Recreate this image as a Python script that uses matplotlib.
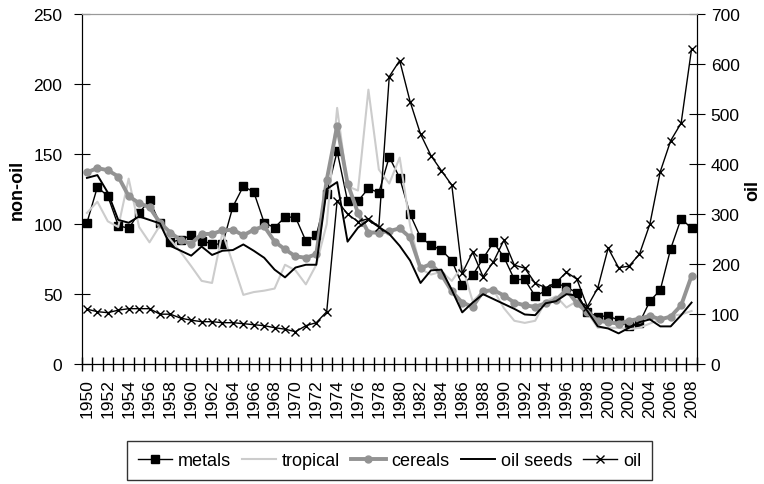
import matplotlib
matplotlib.use("Agg")
import matplotlib.pyplot as plt
import numpy as np

plt.rcParams['font.family'] = ['Liberation Sans', 'DejaVu Sans']

years = list(range(1950, 2009))

metals = [101, 126.5, 120, 99, 97, 108, 117, 100.5, 87, 89,
          92, 88, 86, 85.5, 112.5, 127, 123, 101, 97.5, 105,
          105, 88, 92, 121.5, 152, 116.5, 116.5, 125.5, 122.5, 148,
          133, 107, 90.5, 85, 81.5, 74, 56.5, 63.5, 75.5, 87,
          76.5, 60.5, 60.5, 48.5, 52.5, 58, 55, 51, 37, 34,
          34.5, 31.5, 27, 29.5, 45, 53, 82.5, 104, 97]
tropical = [108, 116, 102, 98, 132.5, 98, 87, 99, 89, 80,
            70, 59.5, 58, 94, 72, 49.5, 51.5, 52.5, 54, 71,
            67, 57, 71, 100, 183, 127, 124, 196, 139, 129,
            147.5, 99, 68, 64, 66, 59.5, 70, 45, 52, 53,
            40, 31, 29.5, 31, 45, 48.5, 40.5, 45, 37, 26,
            26, 26, 25, 26, 29, 32, 34.5, 35.5, 38]
cereals = [137, 140, 138.5, 134, 120, 115, 112, 101, 94, 88.5,
           86, 93, 93, 95.5, 96, 92, 96, 98.5, 87.5, 82,
           77, 76, 78.5, 131.5, 170, 129, 108, 94, 94, 95,
           97, 90.5, 68.5, 71.5, 64, 52, 44, 41, 52, 53,
           49, 44, 42, 41, 43.5, 46, 53, 43.5, 37, 31,
           30, 29, 31, 32.5, 34.5, 32, 34, 42, 63]
oil_seeds = [133, 135, 122.5, 103, 101, 105.5, 103, 100.5, 84.5, 81,
             77.5, 84, 78, 81, 81.5, 85.5, 81, 76, 67.5, 62,
             69, 71, 71, 125, 130, 87.5, 97.5, 103, 98, 93,
             84.5, 74, 58, 67, 67.5, 53, 37, 44, 50, 46.5,
             43, 39.5, 35.5, 35, 43.5, 45, 50, 49, 38, 27,
             25.5, 22, 26, 30, 32, 27, 27, 35, 44]
oil = [110, 105, 103, 108, 111, 111, 111, 100, 100, 92,
       88, 85, 85, 83, 83, 81, 79, 77, 73, 70,
       65, 77, 83, 105, 327, 300, 285, 291, 275, 575,
       607, 525, 460, 417, 387, 358, 182, 224, 175, 205,
       248, 198, 192, 162, 153, 163, 184, 170, 115, 152,
       232, 193, 196, 220, 280, 385, 447, 482, 630]

x = np.arange(len(years))

fig, ax = plt.subplots(figsize=(7.64, 4.85), dpi=100)
fig.subplots_adjust(left=0.107, right=0.912, top=0.969, bottom=0.247)
ax2 = ax.twinx()

l1, = ax.plot(x, metals, color='black', lw=1.0, marker='s', ms=5.5, label='metals')
l2, = ax.plot(x, tropical, color='#cccccc', lw=1.5, label='tropical')
l3, = ax.plot(x, cereals, color='#939393', lw=2.8, marker='o', ms=5, label='cereals')
l4, = ax.plot(x, oil_seeds, color='black', lw=1.4, label='oil seeds')
l5, = ax2.plot(x, oil, color='black', lw=1.0, marker='x', ms=5.5, mew=1.0, label='oil')

ax.set_xlim(-0.5, len(years) - 0.5)
ax.set_ylim(0, 250)
ax2.set_ylim(0, 700)
ax.set_yticks(range(0, 251, 50))
ax2.set_yticks(range(0, 701, 100))

# labels every second year, tick marks between the years
ax.set_xticks(x[::2])
ax.set_xticklabels([str(y) for y in years[::2]], rotation=90,
                   family=['Liberation Sans Narrow', 'Liberation Sans'], fontsize=12.5)
ax.set_xticks(np.arange(-0.5, len(years), 1), minor=True)
ax.tick_params(axis='x', which='major', length=0, pad=10)
ax.tick_params(axis='x', which='minor', direction='inout', length=10, width=1)
ax.tick_params(axis='y', direction='inout', length=12, labelsize=12.5, pad=8)
ax2.tick_params(axis='y', direction='inout', length=12, labelsize=12.5, pad=4)

for a in (ax, ax2):
    a.spines['top'].set_color('#999999')
ax.set_ylabel('non-oil', fontsize=13, fontweight='bold', labelpad=5)
ax2.set_ylabel('oil', fontsize=13, fontweight='bold', labelpad=3)

fig.legend(handles=[l1, l2, l3, l4, l5], loc='center', bbox_to_anchor=(0.51, 0.048),
           ncol=5, fontsize=13, frameon=True, fancybox=False, edgecolor='black',
           handlelength=1.9, handletextpad=0.33, columnspacing=0.6, borderpad=0.6)

fig.savefig('out.png')
